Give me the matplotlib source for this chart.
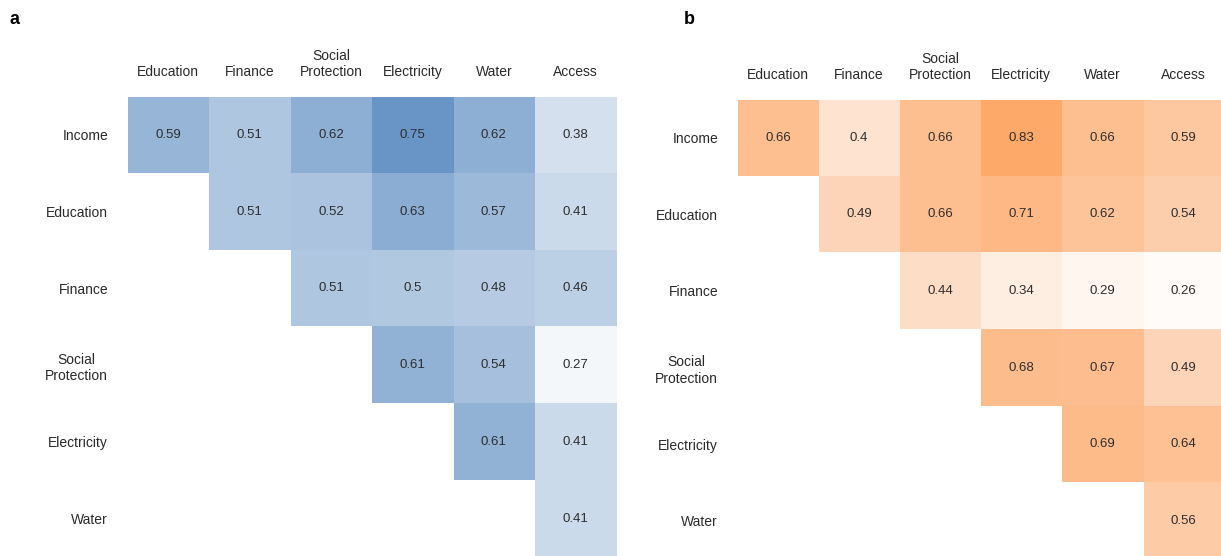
import matplotlib
matplotlib.use("Agg")
import matplotlib.pyplot as plt
import numpy as np
from matplotlib.colors import LinearSegmentedColormap

plt.rcParams['font.family'] = ['Liberation Sans', 'DejaVu Sans']

rows = ['Income', 'Education', 'Finance', 'Social\nProtection', 'Electricity', 'Water']
cols = ['Education', 'Finance', 'Social\nProtection', 'Electricity', 'Water', 'Access']

nan = np.nan
# upper triangle of pairwise scores, row i vs column j (j >= i)
vals_a = [
    [0.59, 0.51, 0.62, 0.75, 0.62, 0.38],
    [nan, 0.51, 0.52, 0.63, 0.57, 0.41],
    [nan, nan, 0.51, 0.5, 0.48, 0.46],
    [nan, nan, nan, 0.61, 0.54, 0.27],
    [nan, nan, nan, nan, 0.61, 0.41],
    [nan, nan, nan, nan, nan, 0.41],
]
vals_b = [
    [0.66, 0.4, 0.66, 0.83, 0.66, 0.59],
    [nan, 0.49, 0.66, 0.71, 0.62, 0.54],
    [nan, nan, 0.44, 0.34, 0.29, 0.26],
    [nan, nan, nan, 0.68, 0.67, 0.49],
    [nan, nan, nan, nan, 0.69, 0.64],
    [nan, nan, nan, nan, nan, 0.56],
]

blues = LinearSegmentedColormap.from_list(
    'soft_blues', ['#ffffff', '#6995c6'])
oranges = LinearSegmentedColormap.from_list(
    'soft_oranges', [(0.0, '#fffdfb'), (0.42, '#fdd3b4'), (1.0, '#fda766')])
blues.set_bad('white')
oranges.set_bad('white')

W, H = 1221, 556
fig = plt.figure(figsize=(W / 100, H / 100), dpi=100)


def px_axes(left, top, right, bottom):
    return fig.add_axes([left / W, 1 - bottom / H, (right - left) / W, (bottom - top) / H])


def heat(ax, vals, cmap, vmin, vmax):
    data = np.ma.masked_invalid(np.array(vals))
    ax.imshow(data, cmap=cmap, vmin=vmin, vmax=vmax, aspect='auto',
              interpolation='nearest')
    for i in range(data.shape[0]):
        for j in range(data.shape[1]):
            v = vals[i][j]
            if not np.isnan(v):
                ax.text(j, i, f"{v:g}", ha='center', va='center',
                        fontsize=9.5, color='#2e2e2e')
    ax.xaxis.tick_top()
    ax.set_xticks(range(len(cols)))
    ax.set_xticklabels(cols, fontsize=10, color='#2a2a2a', linespacing=1.2)
    ax.set_yticks(range(len(rows)))
    ax.set_yticklabels(rows, fontsize=10, color='#2a2a2a', linespacing=1.25,
                       multialignment='center')
    ax.tick_params(axis='x', length=0, pad=12.5)
    ax.tick_params(axis='y', length=0, pad=14)
    for s in ax.spines.values():
        s.set_visible(False)


ax_a = px_axes(127.5, 96.5, 616, 557)
heat(ax_a, vals_a, blues, 0.23, 0.75)
ax_b = px_axes(737.5, 99.5, 1223.5, 559)
heat(ax_b, vals_b, oranges, 0.25, 0.85)

fig.text(10 / W, 1 - 20 / H, 'a', fontsize=13, fontweight='bold', va='center')
fig.text(684 / W, 1 - 20 / H, 'b', fontsize=13, fontweight='bold', va='center')

fig.savefig('out.png', dpi=100)
